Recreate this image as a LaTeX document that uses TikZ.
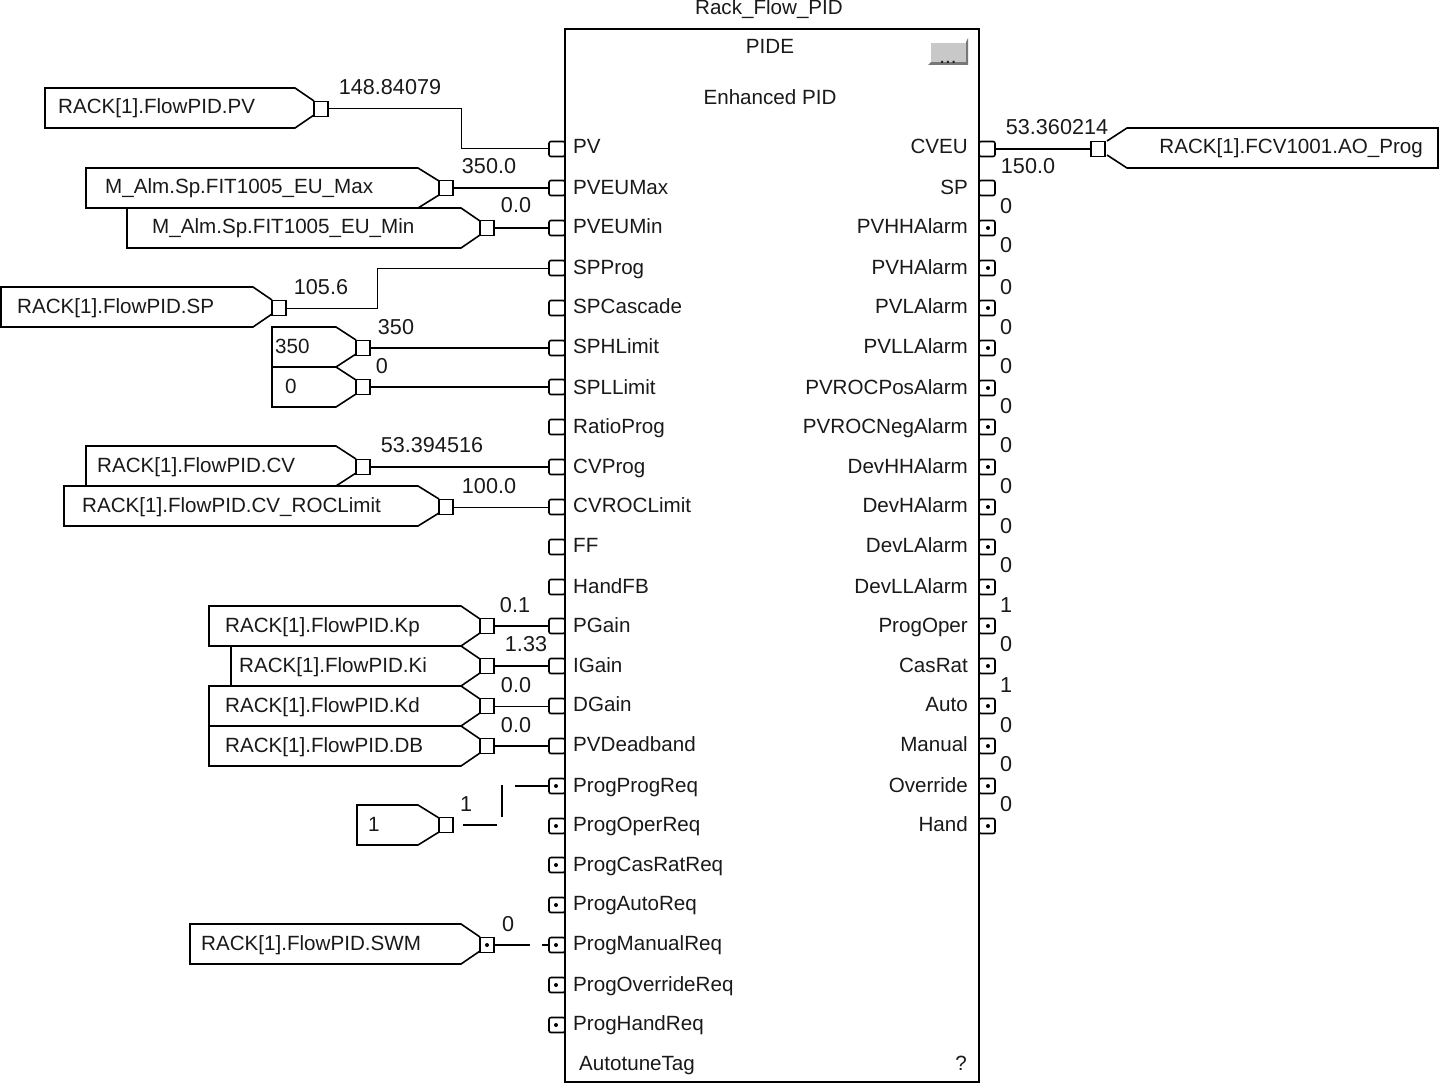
\documentclass[tikz,border=0pt]{standalone}
\usepackage{fontspec}
\setmainfont{Liberation Sans}
\definecolor{btn}{RGB}{200,200,200}
\definecolor{btnd}{RGB}{120,120,120}
\tikzset{
  txt/.style={inner sep=0pt,font=\fontsize{20.6}{22}\selectfont,text=black!90,yshift=-7pt},
  lbl/.style={txt,anchor=base west},
  lblr/.style={txt,anchor=base east},
  lblc/.style={txt,anchor=base},
  num/.style={txt,anchor=base,font=\fontsize{21.6}{22}\selectfont},
  pinbox/.style={draw=black,fill=white,line width=1.6pt,minimum width=14pt,minimum height=15pt,inner sep=0pt,rectangle},
  inpin/.style={draw=black,line width=1.6pt,minimum width=16pt,minimum height=15pt,inner sep=0pt,rectangle,rounded corners=2pt,fill=white},
  dotmark/.style={circle,fill=black,inner sep=0pt,minimum size=4pt},
  tagline/.style={line width=1.6pt,line join=miter},
  wire/.style={line width=2pt},
  thinwire/.style={line width=1pt}
}
% name, left, shoulder, tip, y, text x, text, pin y
\newcommand{\intag}[8]{%
  \draw[tagline] (#4,#5-7) -- (#3,#5-20) -- (#2,#5-20) -- (#2,#5+20) -- (#3,#5+20) -- (#4,#5+7);
  \node[lbl] (tt#1) at (#6,#5-1) {#7};
  \node[pinbox] (#1) at (#4+7,#8) {};
}
\begin{document}
\begin{tikzpicture}[x=1pt,y=-1pt]
\useasboundingbox (0,0) rectangle (1439,1083);
% input pins
\foreach \n/\y/\t in {PV/149/147,PVEUMax/188/188,PVEUMin/228/227,SPProg/268/267,SPCascade/308/306,SPHLimit/348/346,SPLLimit/387/387,RatioProg/427/426,CVProg/467/466,CVROCLimit/507/505,FF/547/545,HandFB/587/586,PGain/626/625,IGain/666/665,DGain/706/704,PVDeadband/746/744}{
  \node[inpin] (in\n) at (557,\y) {};
  \node[lbl] (la\n) at (573,\t) {\n};
}
\foreach \n/\y/\t in {ProgProgReq/786/785,ProgOperReq/826/824,ProgCasRatReq/865/864,ProgAutoReq/905/903,ProgManualReq/945/943,ProgOverrideReq/985/984,ProgHandReq/1025/1023}{
  \node[inpin] (in\n) at (557,\y) {};
  \node[dotmark] (dt\n) at (556,\y) {};
  \node[lbl] (la\n) at (573,\t) {\n};
}
% output pins
\foreach \n/\y/\t in {CVEU/149/147,SP/188/188}{
  \node[inpin] (out\n) at (987,\y) {};
  \node[lblr] (lo\n) at (968,\t) {\n};
}
\foreach \n/\y/\t in {PVHHAlarm/228/227,PVHAlarm/268/267,PVLAlarm/308/306,PVLLAlarm/348/346,PVROCPosAlarm/388/387,PVROCNegAlarm/427/426,DevHHAlarm/467/466,DevHAlarm/507/505,DevLAlarm/547/545,DevLLAlarm/587/586,ProgOper/626/625,CasRat/666/665,Auto/706/704,Manual/746/744,Override/786/785,Hand/826/824}{
  \node[inpin] (out\n) at (987,\y) {};
  \node[dotmark] (do\n) at (988,\y) {};
  \node[lblr] (lo\n) at (968,\t) {\n};
}
% output values
\foreach \i/\v/\y in {a/0/207,b/0/246,c/0/287,d/0/327,e/0/366,f/0/406,g/0/445,h/0/486,i/0/526,j/0/565,k/1/605,l/0/644,m/1/685,n/0/725,o/0/764,p/0/804}{
  \node[num] (val\i) at (1006,\y) {\v};
}
\node[num] (v150) at (1028,167) {150.0};
\node[num] (vcv) at (1057,128) {53.360214};
% block
\draw[line width=2pt] (565,29) rectangle (979,1082);
\node[lblc] (title) at (769,8) {Rack\_Flow\_PID};
\node[lblc] (pide) at (770,47) {PIDE};
\node[lblc] (enh) at (770,98) {Enhanced PID};
\node[lbl] (atag) at (579,1063) {AutotuneTag};
\node[lblc] (qm) at (961,1063) {?};
% button
\fill[btnd] (928,65) -- (968,65) -- (968,38) -- (966,42) -- (966,62) -- (931,62) -- cycle;
\fill[btn] (931,43) rectangle (966,62);
\node[lblc] (dots) at (948,57) {...};
% input tags
\intag{tPV}{45}{295}{314}{108}{58}{RACK[1].FlowPID.PV}{109}
\intag{tMax}{86}{418}{439}{188}{105}{M\_Alm.Sp.FIT1005\_EU\_Max}{188}
\intag{tMin}{127}{461}{480}{228}{152}{M\_Alm.Sp.FIT1005\_EU\_Min}{228}
\intag{tSP}{1}{253}{272}{307}{17}{RACK[1].FlowPID.SP}{308}
\intag{tHi}{272}{336}{356}{347}{275}{350}{348}
\intag{tLo}{272}{336}{356}{387}{285}{0}{387}
\intag{tCV}{86}{336}{356}{466}{97}{RACK[1].FlowPID.CV}{467}
\intag{tRoc}{64}{418}{439}{506}{82}{RACK[1].FlowPID.CV\_ROCLimit}{507}
\intag{tKp}{209}{461}{480}{626}{225}{RACK[1].FlowPID.Kp}{626}
\intag{tKi}{231}{461}{480}{666}{239}{RACK[1].FlowPID.Ki}{666}
\intag{tKd}{209}{461}{480}{706}{225}{RACK[1].FlowPID.Kd}{706}
\intag{tDB}{209}{461}{480}{746}{225}{RACK[1].FlowPID.DB}{746}
\intag{tOne}{357}{418}{439}{825}{368}{1}{825}
\intag{tSW}{190}{461}{480}{944}{201}{RACK[1].FlowPID.SWM}{945}
\node[dotmark] (dSW) at (487,945) {};
% output tag
\draw[tagline] (1107,141) -- (1127,128) -- (1438,128) -- (1438,168) -- (1127,168) -- (1107,155);
\node[pinbox] (tAO) at (1098,149) {};
\node[lblr] (ttAO) at (1423,147) {RACK[1].FCV1001.AO\_Prog};
% value labels
\node[num] (v1) at (390,88) {148.84079};
\node[num] (v2) at (489,167) {350.0};
\node[num] (v3) at (516,206) {0.0};
\node[num] (v4) at (321,287) {105.6};
\node[num] (v5) at (396,327) {350};
\node[num] (v6) at (382,366) {0};
\node[num] (v7) at (432,445) {53.394516};
\node[num] (v8) at (489,486) {100.0};
\node[num] (v9) at (515,605) {0.1};
\node[num] (v10) at (526,644) {1.33};
\node[num] (v11) at (516,685) {0.0};
\node[num] (v12) at (516,725) {0.0};
\node[num] (v13) at (466,804) {1};
\node[num] (v14) at (508,924) {0};
% connectors
\coordinate (kPV) at (461,149);
\draw[thinwire] (tPV.east) -| (kPV) -- (inPV.west);
\draw[wire] (tMax.east) -- (inPVEUMax.west);
\draw[wire] (tMin.east) -- (inPVEUMin.west);
\coordinate (kSP) at (377,268);
\draw[thinwire] (tSP.east) -| (kSP) -- (inSPProg.west);
\draw[wire] (tHi.east) -- (inSPHLimit.west);
\draw[wire] (tLo.east) -- (inSPLLimit.west);
\draw[wire] (tCV.east) -- (inCVProg.west);
\draw[thinwire] (tRoc.east) -- (inCVROCLimit.west);
\draw[wire] (tKp.east) -- (inPGain.west);
\draw[wire] (tKi.east) -- (inIGain.west);
\draw[thinwire] (tKd.east) -- (inDGain.west);
\draw[wire] (tDB.east) -- (inPVDeadband.west);
\coordinate (e1) at (463,825);
\coordinate (e2) at (497,825);
\coordinate (e3) at (502,785);
\coordinate (e4) at (502,817);
\coordinate (e5) at (515,786);
\draw[wire] (e1) -- (e2);
\draw[wire] (e3) -- (e4);
\draw[wire] (e5) -- (inProgProgReq.west);
\coordinate (e6) at (530,945);
\coordinate (e7) at (542,945);
\draw[wire] (tSW.east) -- (e6);
\draw[wire] (e7) -- (inProgManualReq.west);
\draw[wire] (outCVEU.east) -- (tAO.west);
\end{tikzpicture}
\end{document}
